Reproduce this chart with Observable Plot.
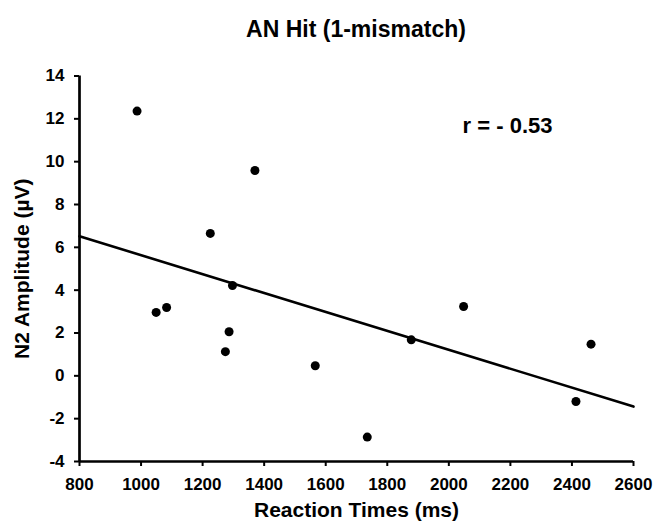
<!DOCTYPE html>
<html>
<head>
<meta charset="utf-8">
<script src="https://cdn.jsdelivr.net/npm/d3@7"></script>
<script src="https://cdn.jsdelivr.net/npm/@observablehq/plot@0.6"></script>
<style>
  body { margin: 0; background: #fff; }
  #title { width: 554px; padding-left: 79px; height: 56px; line-height: 58px; text-align: center;
           font-family: "Liberation Sans", Arial, sans-serif; font-weight: bold; font-size: 23px; color: #000; }
</style>
</head>
<body>
<div id="title">AN Hit (1-mismatch)</div>
<div id="chart"></div>
<script>
// Reaction times (ms) and N2 amplitude (µV) per participant
const reactionTimes = [987, 1370, 1225, 1297, 2048, 1878, 1566, 2462, 2413, 1735, 1049, 1083, 1286, 1274];
const n2Amplitude   = [12.36, 9.59, 6.65, 4.22, 3.24, 1.68, 0.47, 1.48, -1.2, -2.86, 2.96, 3.19, 2.06, 1.13];
const xTicks = [800, 1000, 1200, 1400, 1600, 1800, 2000, 2200, 2400, 2600];
const yTicks = [-4, -2, 0, 2, 4, 6, 8, 10, 12, 14];
const annotation = "r = - 0.53";

const points = reactionTimes.map((x, i) => ({x, y: n2Amplitude[i]}));
const mx = d3.mean(reactionTimes), my = d3.mean(n2Amplitude);
const slope = d3.sum(points, d => (d.x - mx) * (d.y - my)) / d3.sum(points, d => (d.x - mx) ** 2);
const intercept = my - slope * mx;
const xExtent = [xTicks[0], xTicks[xTicks.length - 1]];
const trend = xExtent.map(x => ({x, y: intercept + slope * x}));

const chart = Plot.plot({
  width: 655,
  height: 469,
  marginTop: 19.5,
  marginBottom: 64,
  marginLeft: 79,
  marginRight: 22,
  style: {fontFamily: "'Liberation Sans', Arial, sans-serif", fontWeight: "bold", fontSize: "17px", color: "#000", background: "#fff"},
  x: {domain: xExtent},
  y: {domain: [yTicks[0], yTicks[yTicks.length - 1]]},
  marks: [
    Plot.axisX({ticks: xTicks, tickFormat: d => String(d), tickSize: 5, tickPadding: 11, strokeWidth: 2, label: null, fontSize: 17}),
    Plot.axisY({ticks: yTicks, tickFormat: d => String(d), tickSize: 5, tickPadding: 10, strokeWidth: 2, label: null, fontSize: 17}),
    Plot.ruleX([xExtent[0]], {y1: yTicks[0], y2: yTicks[yTicks.length - 1], strokeWidth: 2.7, stroke: "#000"}),
    Plot.ruleY([yTicks[0]], {x1: xExtent[0], x2: xExtent[1], strokeWidth: 2.7, stroke: "#000"}),
    Plot.line(trend, {x: "x", y: "y", stroke: "#000", strokeWidth: 2.6}),
    Plot.dot(points, {x: "x", y: "y", r: 4.5, fill: "#000", stroke: "none"}),
    Plot.text([annotation], {frameAnchor: "top-right", dx: -81, dy: 41.5, textAnchor: "end", fontSize: 22, fontWeight: "bold"}),
    Plot.text(["Reaction Times (ms)"], {frameAnchor: "bottom", dy: 55, fontSize: 21, fontWeight: "bold"}),
    Plot.text(["N2 Amplitude (µV)"], {frameAnchor: "left", dx: -57, rotate: -90, textAnchor: "middle", fontSize: 21, fontWeight: "bold"})
  ]
});
document.getElementById("chart").appendChild(chart);
</script>
</body>
</html>
